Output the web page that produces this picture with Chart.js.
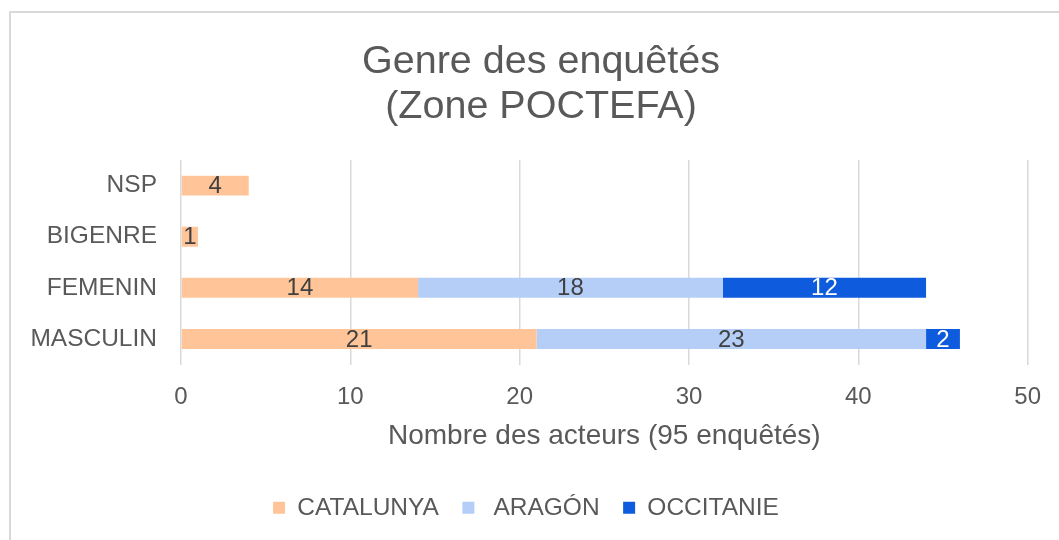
<!DOCTYPE html>
<html>
<head>
<meta charset="utf-8">
<script src="https://cdn.jsdelivr.net/npm/chart.js@4.4.1/dist/chart.umd.min.js"></script>
<style>
  html, body { margin: 0; padding: 0; background: #fff; overflow: hidden; }
  #frame { position: absolute; left: 9px; top: 11px; width: 1100px; height: 600px; border: 2px solid #d9d9d9; box-sizing: border-box; }
  #wrap { position: absolute; left: 0; top: 0; width: 1059px; height: 540px; }
</style>
</head>
<body>
<div id="frame"></div>
<div id="wrap"><canvas id="chart"></canvas></div>
<script>
const categories = ['NSP', 'BIGENRE', 'FEMENIN', 'MASCULIN'];
const catalunya = [4, 1, 14, 21];
const aragon = [0, 0, 18, 23];
const occitanie = [0, 0, 12, 2];
const seriesNames = ['CATALUNYA', ' ARAGÓN', 'OCCITANIE'];
const xMin = 0, xMax = 50, xStep = 10;

const FONT = '"Liberation Sans", Arial, sans-serif';

// draws the value in the middle of every bar segment
const valueLabels = {
  id: 'valueLabels',
  afterDatasetsDraw(chart) {
    const ctx = chart.ctx;
    chart.data.datasets.forEach((ds, i) => {
      const meta = chart.getDatasetMeta(i);
      meta.data.forEach((bar, j) => {
        const v = ds.data[j];
        if (!v) return;
        const { x, y, base } = bar.getProps(['x', 'y', 'base'], true);
        ctx.save();
        ctx.font = '24px ' + FONT;
        ctx.fillStyle = ds.labelColor;
        ctx.textAlign = 'center';
        ctx.textBaseline = 'middle';
        ctx.fillText(String(v), (x + base) / 2, y + 1);
        ctx.restore();
      });
    });
  }
};

// title and legend are not centred on the same line in the original
const boxShift = {
  id: 'boxShift',
  afterLayout(chart) {
    chart.titleBlock.left += 27;
    chart.titleBlock.right += 27;
    chart.legend.left += 12;
    chart.legend.right += 12;
  }
};

new Chart(document.getElementById('chart'), {
  type: 'bar',
  data: {
    labels: categories,
    datasets: [
      { label: seriesNames[0], data: catalunya, backgroundColor: '#ffc599', labelColor: '#404040' },
      { label: seriesNames[1], data: aragon, backgroundColor: '#b4cef8', labelColor: '#404040' },
      { label: seriesNames[2], data: occitanie, backgroundColor: '#0e5cdd', labelColor: '#ffffff' },
    ],
  },
  options: {
    indexAxis: 'y',
    responsive: true,
    maintainAspectRatio: false,
    animation: false,
    categoryPercentage: 1,
    barPercentage: 0.39,
    layout: { padding: { left: 0, right: 31, top: 0, bottom: 10 } },
    scales: {
      x: {
        stacked: true,
        min: xMin,
        max: xMax,
        afterFit: (scale) => { scale.height = 107.5; },
        ticks: { stepSize: xStep, padding: 18, color: '#595959', font: { family: FONT, size: 24 } },
        grid: { color: '#d9d9d9', lineWidth: 1.5, drawTicks: false },
        border: { display: false },
        title: {
          display: true,
          text: 'Nombre des acteurs (95 enquêtés)',
          color: '#595959',
          font: { family: FONT, size: 28 },
          padding: { top: 0, bottom: 18.5 },
        },
      },
      y: {
        stacked: true,
        afterFit: (scale) => { scale.width = 181; },
        ticks: { padding: 24, color: '#595959', font: { family: FONT, size: 24.5 } },
        grid: { display: false, drawTicks: false },
        border: { display: false },
      },
    },
    plugins: {
      title: {
        display: true,
        text: ['Genre des enquêtés', '(Zone POCTEFA)'],
        color: '#595959',
        font: { family: FONT, size: 39.5, weight: 'normal', lineHeight: 1.14 },
        padding: { top: 39.5, bottom: 30.5 },
      },
      legend: {
        position: 'bottom',
        labels: {
          boxWidth: 12,
          boxHeight: 12,
          padding: 23.5,
          color: '#595959',
          font: { family: FONT, size: 24.5 },
        },
      },
      tooltip: { enabled: false },
    },
  },
  plugins: [valueLabels, boxShift],
});
</script>
</body>
</html>
